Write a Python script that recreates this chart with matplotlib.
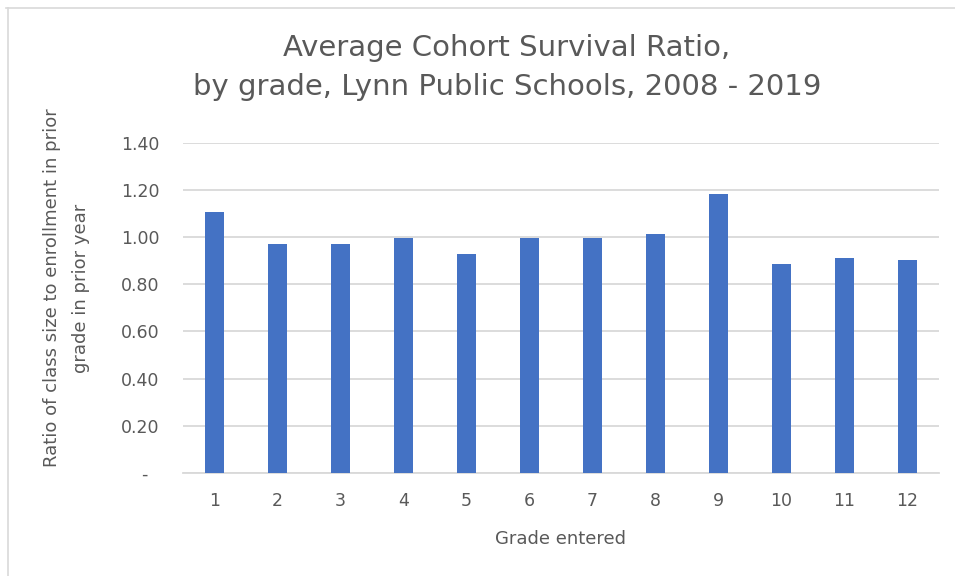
import matplotlib
matplotlib.use("Agg")
import matplotlib.pyplot as plt
from matplotlib.lines import Line2D
from matplotlib.ticker import FuncFormatter

# average cohort survival ratio by grade entered
grades = ["1", "2", "3", "4", "5", "6", "7", "8", "9", "10", "11", "12"]
ratios = [1.107, 0.970, 0.970, 0.997, 0.928, 0.997, 0.997, 1.013, 1.182, 0.884, 0.911, 0.903]
yticks = [0.0, 0.2, 0.4, 0.6, 0.8, 1.0, 1.2, 1.4]

grey = "#595959"
plt.rcParams["font.family"] = ["DejaVu Sans"]

fig = plt.figure(figsize=(9.55, 5.76), dpi=100)
ax = fig.add_axes([0.1916, 0.1788, 0.7916, 0.5735])

x = range(len(grades))
ax.bar(x, ratios, width=0.30, color="#4472C4", zorder=3)

ax.set_xlim(-0.5, len(grades) - 0.5)
ax.set_ylim(0, 1.4)
ax.set_yticks(yticks)
ax.yaxis.set_major_formatter(FuncFormatter(lambda v, p: "-  " if v == 0 else f"{v:.2f}"))
ax.set_xticks(list(x))
ax.set_xticklabels(grades)

ax.grid(axis="y", color="#D9D9D9", linewidth=1.3, zorder=0)
for s in ["top", "right", "left"]:
    ax.spines[s].set_visible(False)
ax.spines["bottom"].set_color("#D9D9D9")
ax.spines["bottom"].set_linewidth(1.3)
ax.tick_params(length=0, colors=grey, labelsize=12.5)
ax.tick_params(axis="y", pad=17)
ax.tick_params(axis="x", pad=14)

ax.set_xlabel("Grade entered", color=grey, fontsize=13, labelpad=14)
ax.set_ylabel("Ratio of class size to enrollment in prior\ngrade in prior year",
              color=grey, fontsize=13, linespacing=1.75)
ax.yaxis.set_label_coords(-0.123, 0.56)

fig.text(0.531, 0.883, "Average Cohort Survival Ratio,\nby grade, Lynn Public Schools, 2008 - 2019",
         ha="center", va="center", color=grey, fontsize=21, linespacing=1.5)

# chart frame, top and left edges
fig.add_artist(Line2D([0.006, 1.0], [0.986, 0.986], color="#D9D9D9", linewidth=1.2))
fig.add_artist(Line2D([0.008, 0.008], [0.0, 0.986], color="#D9D9D9", linewidth=1.2))

fig.savefig("out.png", dpi=100)
